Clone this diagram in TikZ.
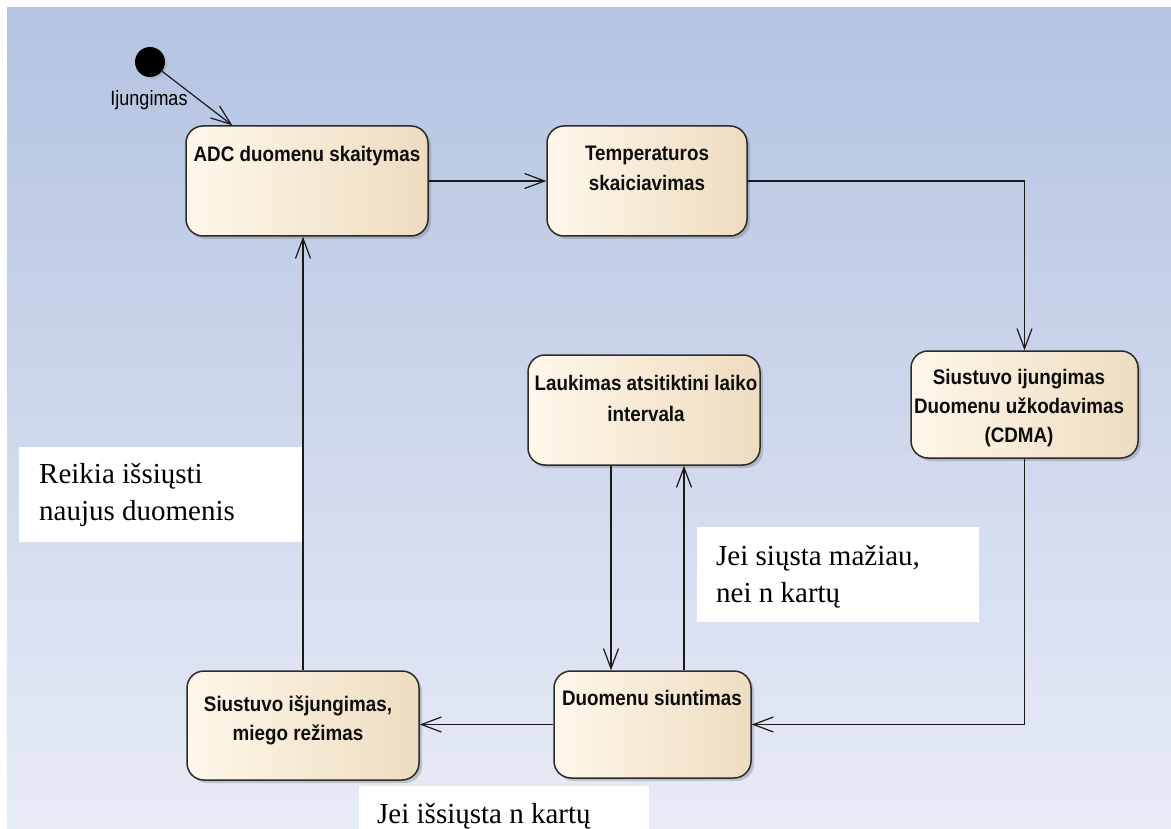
\documentclass[tikz,border=0pt]{standalone}
\usepackage{fontspec}
\setmainfont{Liberation Serif}
\newfontfamily\eafont{Liberation Sans}
\usetikzlibrary{arrows.meta,shadows,calc}

\definecolor{bgtop}{HTML}{B4C3E2}
\definecolor{bgbot}{HTML}{E7EBF6}
\definecolor{creamL}{HTML}{FEF7EA}
\definecolor{creamR}{HTML}{EEDCC0}
\definecolor{edgeline}{HTML}{2B2B2B}
\definecolor{wire}{HTML}{1A1A1A}

% vertically stretched, centred lines for the state labels
\newcommand{\statelines}[1]{\scalebox{1}[1.12]{\begin{tabular}[t]{@{}c@{}}#1\end{tabular}}}
% left aligned lines for the guard notes
\newcommand{\notelines}[1]{\begin{tabular}[t]{@{}l@{}}#1\end{tabular}}

\tikzset{
  statebox/.style={draw=edgeline, line width=1.5pt, rounded corners=17pt,
    left color=creamL, right color=creamR, inner sep=0pt,
    drop shadow={shadow xshift=3pt, shadow yshift=-3pt, opacity=0.3, fill=black!60}},
  statetext/.style={inner sep=0pt, anchor=base, text=black!95,
    font=\eafont\bfseries\fontsize{18.8}{25.9}\selectfont},
  flow/.style={draw=wire, line width=1.2pt,
    -{Straight Barb[length=20pt,width=15pt,line width=1.2pt]}},
  notebg/.style={fill=white, inner sep=0pt, anchor=north west},
  notetext/.style={inner sep=0pt, anchor=base west,
    font=\fontsize{29}{37}\selectfont},
}

\begin{document}
\begin{tikzpicture}[x=1pt, y=-1pt]
  \useasboundingbox (0,0) rectangle (1171,829);
  \fill[white] (0,0) rectangle (1171,829);
  \fill[top color=bgtop, bottom color=bgbot] (7,8) rectangle (1171,828);

  % initial pseudo state
  \node[circle, fill=black, minimum size=30pt, inner sep=0pt,
        drop shadow={shadow xshift=2pt, shadow yshift=-2pt, opacity=0.25, fill=black!50}] (init) at (150,62) {};
  \node[inner sep=0pt, anchor=base, font=\eafont\fontsize{18}{20}\selectfont] (initlbl) at (149,106)
       {\scalebox{1}[1.15]{Ijungimas}};

  % states
  \node[statebox, minimum width=242pt, minimum height=110pt] (adc)  at (307,181) {};
  \node[statebox, minimum width=200pt, minimum height=110pt] (temp) at (647,181) {};
  \node[statebox, minimum width=227pt, minimum height=107pt] (siu)  at (1024.5,404.5) {};
  \node[statebox, minimum width=232pt, minimum height=110pt] (lauk) at (644,410) {};
  \node[statebox, minimum width=197pt, minimum height=107pt] (duom) at (652.5,724.5) {};
  \node[statebox, minimum width=232pt, minimum height=109pt] (isj)  at (303,725.5) {};

  \node[statetext] (adc-t)  at (307,162)  {\statelines{ADC duomenu skaitymas}};
  \node[statetext] (temp-t) at (647,161)  {\statelines{Temperaturos\\skaiciavimas}};
  \node[statetext] (siu-t)  at (1019,384) {\statelines{Siustuvo ijungimas\\Duomenu užkodavimas\\(CDMA)}};
  \node[statetext] (lauk-t) at (646,390)  {\statelines{Laukimas atsitiktini laiko\\[2.4pt]intervala}};
  \node[statetext] (duom-t) at (652,705)  {\statelines{Duomenu siuntimas}};
  \node[statetext] (isj-t)  at (298,711)  {\statelines{Siustuvo išjungimas,\\miego režimas}};

  % lanes of the vertical transitions
  \coordinate (laneL) at (303,0);
  \coordinate (laneA) at (611,0);
  \coordinate (laneB) at (684,0);

  % transitions
  \draw[flow] (init) -- ([xshift=47pt]adc.north west);
  \draw[flow] (adc.east) -- (temp.west);
  \draw[flow] (temp.east) -| (siu.north);
  \draw[flow] (siu.south) |- (duom.east);
  \draw[flow] (duom.west) -- (duom.west -| isj.east);
  \draw[flow] (isj.north -| laneL) -- (adc.south -| laneL);
  \draw[flow] (lauk.south -| laneA) -- (duom.north -| laneA);
  \draw[flow] (duom.north -| laneB) -- (lauk.south -| laneB);

  % guard notes
  \node[notebg, minimum width=283pt, minimum height=95pt] (noteA) at (19,447) {};
  \node[notetext] (noteA-t) at (39,483) {\notelines{Reikia išsiųsti\\naujus duomenis}};
  \node[notebg, minimum width=282pt, minimum height=95pt] (noteB) at (697,527) {};
  \node[notetext] (noteB-t) at (716,565) {\notelines{Jei siųsta mažiau,\\nei n kartų}};
  \node[notebg, minimum width=290pt, minimum height=43pt] (noteC) at (359,786) {};
  \node[notetext] (noteC-t) at (377,823) {\notelines{Jei išsiųsta n kartų}};
\end{tikzpicture}
\end{document}
